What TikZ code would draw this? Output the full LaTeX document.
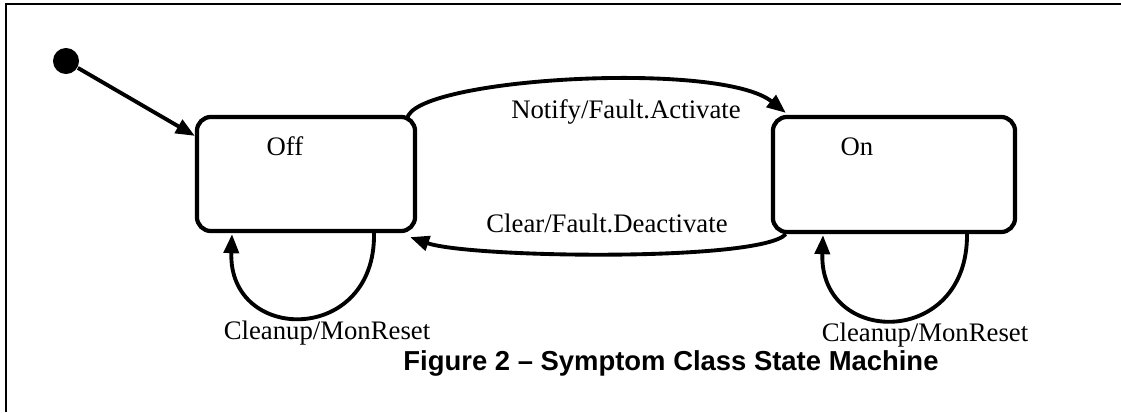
\documentclass[tikz,border=0pt]{standalone}
\usepackage{fontspec}
\setmainfont{Liberation Serif}
\newfontfamily\capfont{Liberation Sans}
\usetikzlibrary{arrows.meta,calc}

\begin{document}
\begin{tikzpicture}[x=0.01cm, y=-0.01cm,
	state/.style={draw, line width=1.2pt, rounded corners=0.14cm, minimum width=2.18cm, minimum height=1.14cm, inner sep=0pt},
	initial/.style={circle, fill=black, minimum size=0.26cm, inner sep=0pt},
	trans/.style={line width=1.1pt, -{Triangle[length=0.19cm, width=0.15cm]}},
	txt/.style={font=\fontsize{7.6pt}{9pt}\selectfont, inner sep=0pt}]
	\useasboundingbox (0,0) rectangle (1121,412);
	\draw[line width=0.6pt] (1121,4) -- (6,4) -- (6,412);

	\node[initial] (init) at (66,61) {};
	\node[state] (off) at (306,174) {};
	\node[state, minimum width=2.42cm, minimum height=1.15cm] (on) at (894,174.5) {};
	\node[txt] (offname) at (285,146) {Off};
	\node[txt] (onname) at (857,147) {On};

	% initial
	\draw[trans] (init) -- ($(off.north west)+(0,21)$);
	% off to on
	\draw[trans] ($(off.north east)+(-10,4)$) .. controls (412,78) and (720,60) .. ($(on.north west)+(15,-2)$);
	\node[txt] (notify) at (626,112) {Notify/Fault.Activate};
	% on to off
	\draw[trans] ($(on.south west)+(15,0)$) .. controls (760,262) and (470,258) .. ($(off.south east)+(-7,4)$);
	\node[txt] (clear) at (607,223) {Clear/Fault.Deactivate};
	% off loop
	\draw[trans] ($(off.south)+(68,0)$) .. controls +(2,112) and +(-4,110) .. ($(off.south)+(-74,1)$);
	\node[txt] (offloop) at (327,333) {Cleanup/MonReset};
	% on loop
	\draw[trans] ($(on.south)+(73,0)$) .. controls +(1,114) and +(-4,112) .. ($(on.south)+(-71,1)$);
	\node[txt] (onloop) at (925,335) {Cleanup/MonReset};

	\node[font=\capfont\bfseries\fontsize{7.8pt}{9pt}\selectfont, inner sep=0pt] (caption) at (671,363) {Figure 2 \textendash{} Symptom Class State Machine};
\end{tikzpicture}
\end{document}
